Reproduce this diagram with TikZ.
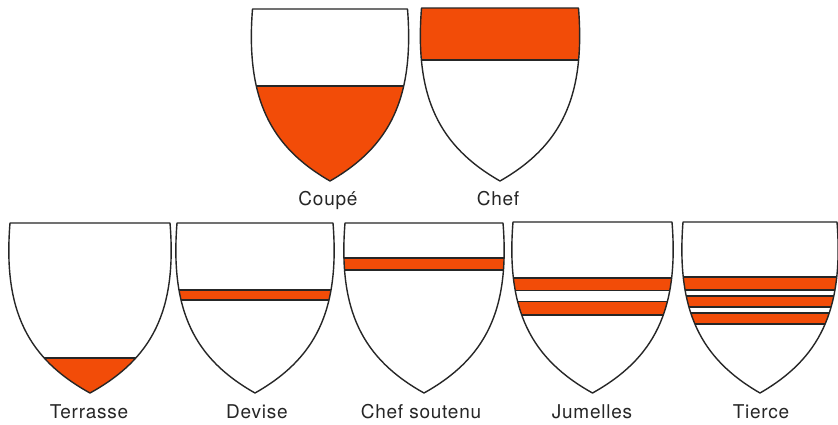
\documentclass[tikz,border=0pt]{standalone}
\usepackage{fontspec}
\setmainfont[LetterSpace=4]{TeX Gyre Heros}
\definecolor{herred}{RGB}{242,76,8}
\definecolor{ink}{RGB}{38,38,38}
% shield outline: centre x, top y, point y, half width
\newcommand\shieldpath[4]{({#1-#4},#2) -- ({#1+#4},#2) .. controls ({#1+1.09*#4},{#2+0.52*(#3-#2)}) and ({#1+0.77*#4},{#2+0.8*(#3-#2)}) .. (#1,#3) .. controls ({#1-0.77*#4},{#2+0.8*(#3-#2)}) and ({#1-1.09*#4},{#2+0.52*(#3-#2)}) .. cycle}
% band inside shield: cx, top, point, w, y1, y2
\newcommand\shieldband[6]{%
  \begin{scope}
    \clip \shieldpath{#1}{#2}{#3}{#4};
    \fill[herred] ({#1-#4-12},#5) rectangle ({#1+#4+12},#6);
    \draw[outl] ({#1-#4-12},#5) -- ({#1+#4+12},#5);
    \draw[outl] ({#1-#4-12},#6) -- ({#1+#4+12},#6);
  \end{scope}}
\newcommand\shieldoutline[4]{\draw[outl] \shieldpath{#1}{#2}{#3}{#4};}
\tikzset{
  outl/.style={draw=ink, line width=1.4pt, line join=round},
  lbl/.style={anchor=base, inner sep=0pt, font=\fontsize{19}{22}\selectfont, text=ink}
}
\begin{document}
\begin{tikzpicture}[x=1pt,y=-1pt]
\useasboundingbox (0,0) rectangle (838,424);
\fill[white] (0,0) rectangle (838,424);
% Coupe
\shieldband{330}{9}{181}{77.5}{86}{190}
\shieldoutline{330}{9}{181}{77.5}
% Chef
\shieldband{500}{8}{181}{78.5}{0}{60}
\shieldoutline{500}{8}{181}{78.5}
% Terrasse
\shieldband{90}{223}{393}{80}{358}{400}
\shieldoutline{90}{223}{393}{80}
% Devise
\shieldband{255}{223}{393}{78}{290}{300}
\shieldoutline{255}{223}{393}{78}
% Chef soutenu
\shieldband{424}{223}{393}{79}{258}{270}
\shieldoutline{424}{223}{393}{79}
% Jumelles
\shieldband{592.5}{222}{393}{79.5}{278}{290.5}
\shieldband{592.5}{222}{393}{79.5}{301.5}{315}
\shieldoutline{592.5}{222}{393}{79.5}
% Tierce
\shieldband{760}{222}{393}{77}{277}{290}
\shieldband{760}{222}{393}{77}{296}{307}
\shieldband{760}{222}{393}{77}{313}{324}
\shieldoutline{760}{222}{393}{77}
% labels
\node[lbl] (lcoupe) at (328,205) {Coupé};
\node[lbl] (lchef) at (498,205) {Chef};
\node[lbl] (lterrasse) at (89,418) {Terrasse};
\node[lbl] (ldevise) at (257,418) {Devise};
\node[lbl] (lsoutenu) at (421,418) {Chef soutenu};
\node[lbl] (ljumelles) at (592,418) {Jumelles};
\node[lbl] (ltierce) at (761,418) {Tierce};
\end{tikzpicture}
\end{document}
